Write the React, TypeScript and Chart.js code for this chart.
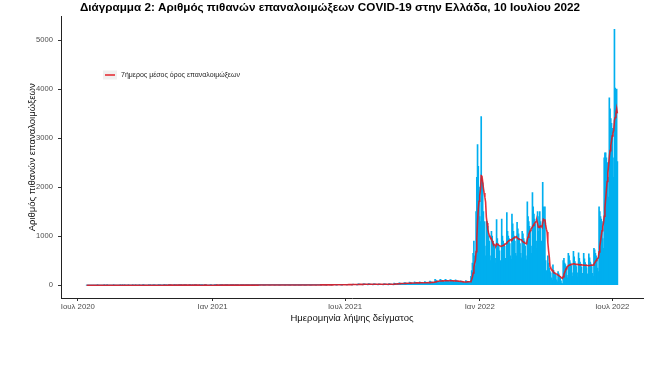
import React, { useEffect, useRef } from "react";
import { Chart, registerables } from "chart.js";

Chart.register(...registerables);

// ---------- DATA ----------
const TITLE = "Διάγραμμα 2: Αριθμός πιθανών επαναλοιμώξεων COVID-19 στην Ελλάδα, 10 Ιουλίου 2022";
const Y_TITLE = "Αριθμός πιθανών επαναλοιμώξεων";
const X_TITLE = "Ημερομηνία λήψης δείγματος";
const LEGEND_LABEL = "7ήμερος μέσος όρος επαναλοιμώξεων";

const EPOCH = "2020-07-01";
const FIRST_DATE = "2020-07-13"; // first daily value below (Monday)

const xTickDates = ["2020-07-01", "2021-01-01", "2021-07-01", "2022-01-01", "2022-07-01"];
const xTickLabels = ["Ιουλ 2020", "Ιαν 2021", "Ιουλ 2021", "Ιαν 2022", "Ιουλ 2022"];
const yTickValues = [0, 1000, 2000, 3000, 4000, 5000];

// Daily probable reinfections, one row per week (Mon..Sun)
const dailyReinfections: number[] = [
  // 2020
  0, 0, 0, 0, 0, 0, 0,
  0, 0, 0, 0, 0, 0, 0,
  0, 1, 0, 0, 0, 0, 0,
  0, 0, 0, 1, 0, 0, 0,
  1, 0, 0, 0, 0, 0, 0,
  0, 0, 1, 0, 0, 0, 0,
  0, 0, 0, 0, 1, 0, 0,
  1, 0, 0, 1, 0, 0, 0,
  0, 1, 0, 0, 0, 0, 0,
  1, 0, 0, 0, 1, 0, 0,
  0, 0, 1, 0, 0, 0, 0,
  1, 1, 0, 0, 0, 0, 0,
  0, 1, 0, 1, 0, 0, 0,
  1, 0, 1, 0, 0, 0, 0,
  2, 1, 0, 1, 0, 0, 0,
  1, 1, 1, 0, 1, 0, 0,
  2, 1, 1, 1, 0, 0, 0,
  1, 2, 1, 0, 1, 0, 0,
  2, 1, 1, 1, 1, 0, 0,
  1, 1, 2, 1, 0, 0, 0,
  2, 1, 1, 0, 1, 0, 0,
  1, 2, 1, 1, 0, 0, 0,
  1, 1, 0, 1, 1, 0, 0,
  2, 1, 1, 0, 0, 0, 0,
  0, 1, 1, 0, 0, 0, 0,
  // 2021
  2, 1, 1, 1, 0, 0, 0,
  1, 2, 1, 1, 1, 0, 0,
  2, 1, 2, 1, 1, 0, 0,
  2, 2, 1, 1, 1, 1, 0,
  3, 2, 2, 1, 1, 0, 0,
  2, 3, 2, 2, 1, 1, 0,
  3, 2, 2, 2, 1, 1, 0,
  4, 3, 3, 2, 2, 1, 1,
  5, 4, 3, 3, 2, 1, 1,
  5, 4, 4, 3, 3, 2, 1,
  6, 5, 4, 4, 3, 2, 1,
  6, 5, 5, 4, 3, 2, 1,
  5, 4, 4, 3, 3, 1, 1,
  6, 5, 4, 4, 3, 2, 1,
  5, 5, 4, 3, 3, 2, 1,
  6, 4, 4, 3, 2, 1, 1,
  5, 4, 3, 3, 2, 1, 1,
  6, 5, 4, 3, 3, 2, 1,
  7, 6, 5, 4, 3, 2, 1,
  8, 7, 6, 5, 4, 2, 2,
  10, 8, 7, 6, 5, 3, 2,
  11, 9, 8, 7, 6, 3, 2,
  12, 10, 9, 8, 6, 4, 3,
  13, 11, 10, 9, 7, 4, 3,
  15, 12, 11, 10, 8, 5, 3,
  17, 14, 12, 11, 9, 5, 4,
  20, 17, 15, 13, 11, 6, 4,
  24, 20, 18, 16, 13, 8, 5,
  27, 23, 21, 19, 15, 9, 6,
  30, 26, 23, 21, 17, 10, 7,
  31, 27, 24, 22, 18, 10, 7,
  30, 26, 23, 21, 17, 10, 7,
  29, 25, 22, 20, 17, 9, 6,
  30, 26, 23, 21, 17, 10, 7,
  32, 28, 25, 23, 19, 11, 8,
  42, 36, 33, 30, 27, 24, 18,
  49, 42, 38, 35, 32, 28, 21,
  56, 48, 44, 40, 36, 32, 24,
  63, 54, 50, 45, 40, 36, 27,
  67, 58, 53, 48, 43, 38, 29,
  70, 60, 55, 50, 45, 40, 30,
  73, 62, 57, 52, 47, 42, 31,
  84, 72, 66, 60, 54, 48, 36,
  120, 102, 94, 85, 76, 68, 51,
  118, 110, 99, 90, 81, 72, 60,
  122, 108, 101, 92, 83, 74, 64,
  115, 106, 97, 88, 79, 70, 61,
  110, 96, 88, 80, 72, 64, 50,
  91, 78, 72, 65, 58, 52, 39,
  95, 85, 80, 75, 68, 55, 45,
  180, 300, 450, 650, 900, 600, 400,
  1500, 2200, 2866, 2425, 2000, 1400, 1300,
  // 2022
  3440, 2150, 2090, 1500, 1300, 800, 600,
  1300, 1300, 1200, 1000, 900, 600, 500,
  1100, 1000, 900, 850, 800, 550, 450,
  1340, 950, 850, 800, 700, 500, 420,
  1350, 1000, 900, 850, 800, 550, 500,
  1480, 1100, 1000, 950, 850, 600, 530,
  1450, 1250, 1100, 1000, 900, 650, 600,
  1280, 1150, 1050, 950, 850, 650, 560,
  1100, 1050, 950, 900, 800, 600, 520,
  1700, 1400, 1300, 1200, 1100, 800, 650,
  1890, 1600, 1450, 1350, 1250, 900, 750,
  1500, 1100, 1400, 1500, 1300, 900, 600,
  2100, 1600, 1300, 1600, 500, 300, 200,
  600, 450, 350, 280, 250, 150, 100,
  415, 300, 260, 220, 200, 110, 70,
  280, 230, 180, 150, 90, 40, 30,
  500, 550, 450, 420, 380, 200, 150,
  650, 600, 500, 450, 400, 250, 180,
  690, 580, 480, 420, 380, 250, 170,
  660, 550, 470, 430, 370, 240, 160,
  650, 540, 460, 420, 360, 230, 150,
  640, 560, 470, 430, 380, 240, 180,
  750, 720, 650, 600, 560, 350, 280,
  1600, 1500, 1400, 1350, 1300, 950, 750,
  2600, 2700, 2700, 2600, 2500, 2200, 1800,
  3820, 3600, 3400, 3300, 3200, 2600, 2200,
  5220, 4020, 3980, 4000, 2520,
];

// ---------- STYLE ----------
const BAR_COLOR = "#00AFEF";
const LINE_COLOR = "rgba(226, 20, 30, 0.88)";
const FONT = "'Liberation Sans', Arial, sans-serif";

const DAY_MS = 86400000;
const dayOf = (iso: string) => {
  const [y, m, d] = iso.split("-").map(Number);
  const [ey, em, ed] = EPOCH.split("-").map(Number);
  return Math.round((Date.UTC(y, m - 1, d) - Date.UTC(ey, em - 1, ed)) / DAY_MS);
};

const titleAndLegendPlugin = {
  id: "titleAndLegend",
  afterDraw(chart: any) {
    const { ctx, chartArea } = chart;
    ctx.save();
    // title (centred a little right of the canvas centre, as in the source)
    ctx.fillStyle = "#000";
    ctx.font = `normal bold 11.7px ${FONT}`;
    ctx.textAlign = "center";
    ctx.textBaseline = "middle";
    ctx.fillText(TITLE, 330, 8);

    // legend inside the plot
    const x0 = chartArea.left + 42;
    const y0 = chartArea.top + 54;
    ctx.fillStyle = "#F0F0F0";
    ctx.fillRect(x0, y0, 14, 9);
    ctx.strokeStyle = LINE_COLOR;
    ctx.lineWidth = 1.6;
    ctx.beginPath();
    ctx.moveTo(x0 + 2, y0 + 4.5);
    ctx.lineTo(x0 + 12, y0 + 4.5);
    ctx.stroke();
    ctx.fillStyle = "#222";
    ctx.font = `normal 7px ${FONT}`;
    ctx.textBaseline = "middle";
    ctx.textAlign = "left";
    ctx.fillText(LEGEND_LABEL, x0 + 18, y0 + 4.5);
    ctx.restore();
  },
};

export default function App() {
  const ref = useRef<HTMLCanvasElement | null>(null);

  useEffect(() => {
    document.body.style.margin = "0";
    const canvas = ref.current;
    if (!canvas) return;

    const start = dayOf(FIRST_DATE);
    const bars = dailyReinfections.map((v, i) => ({ x: start + i, y: v }));
    const ma = dailyReinfections.map((_, i) => {
      const from = Math.max(0, i - 6);
      const win = dailyReinfections.slice(from, i + 1);
      return { x: start + i, y: win.reduce((a, b) => a + b, 0) / win.length };
    });
    const xTickDays = xTickDates.map(dayOf);

    const chart = new Chart(canvas, {
      type: "bar",
      data: {
        datasets: [
          {
            type: "line",
            label: LEGEND_LABEL,
            data: ma,
            borderColor: LINE_COLOR,
            borderWidth: 1.6,
            pointRadius: 0,
            tension: 0,
            order: 0,
          } as any,
          {
            type: "bar",
            label: "Επαναλοιμώξεις",
            data: bars,
            backgroundColor: BAR_COLOR,
            borderWidth: 0,
            barThickness: 1,
            order: 1,
          } as any,
        ],
      },
      options: {
        animation: false,
        responsive: false,
        maintainAspectRatio: false,
        events: [],
        layout: { padding: { left: 0, right: 10, top: 16.5, bottom: 45 } },
        plugins: {
          legend: { display: false },
          tooltip: { enabled: false },
          title: { display: false },
        },
        scales: {
          x: {
            type: "linear",
            min: dayOf("2020-06-08"),
            max: dayOf("2022-08-12"),
            offset: false,
            afterBuildTicks: (s: any) => {
              s.ticks = xTickDays.map((v) => ({ value: v }));
            },
            afterFit: (s: any) => {
              s.height = 26;
            },
            ticks: {
              autoSkip: false,
              maxRotation: 0,
              padding: 1,
              color: "#4D4D4D",
              font: { family: FONT, size: 7.8 },
              callback: (v: any) => {
                const i = xTickDays.indexOf(Number(v));
                return i >= 0 ? xTickLabels[i] : "";
              },
            },
            grid: { drawOnChartArea: false, offset: false, tickLength: 3, color: "#333" },
            border: { color: "#222", width: 1 },
            title: {
              display: true,
              text: X_TITLE,
              color: "#111",
              font: { family: FONT, size: 9.5 },
              padding: { top: 0, bottom: 0 },
            },
          },
          y: {
            type: "linear",
            min: -261,
            max: 5481,
            afterBuildTicks: (s: any) => {
              s.ticks = yTickValues.map((v) => ({ value: v }));
            },
            afterFit: (s: any) => {
              s.width = 61;
            },
            ticks: {
              padding: 5,
              color: "#4D4D4D",
              font: { family: FONT, size: 7.6 },
              callback: (v: any) => String(v),
            },
            grid: { drawOnChartArea: false, offset: false, tickLength: 3, color: "#333" },
            border: { color: "#222", width: 1 },
            title: {
              display: true,
              text: Y_TITLE,
              color: "#111",
              font: { family: FONT, size: 9.5 },
              padding: { top: 27, bottom: 0 },
            },
          },
        },
      },
      plugins: [titleAndLegendPlugin],
    });

    return () => chart.destroy();
  }, []);

  return (
    <div style={{ width: 653, height: 369, background: "#fff" }}>
      <canvas ref={ref} width={653} height={369} style={{ display: "block", width: 653, height: 369 }} />
    </div>
  );
}
